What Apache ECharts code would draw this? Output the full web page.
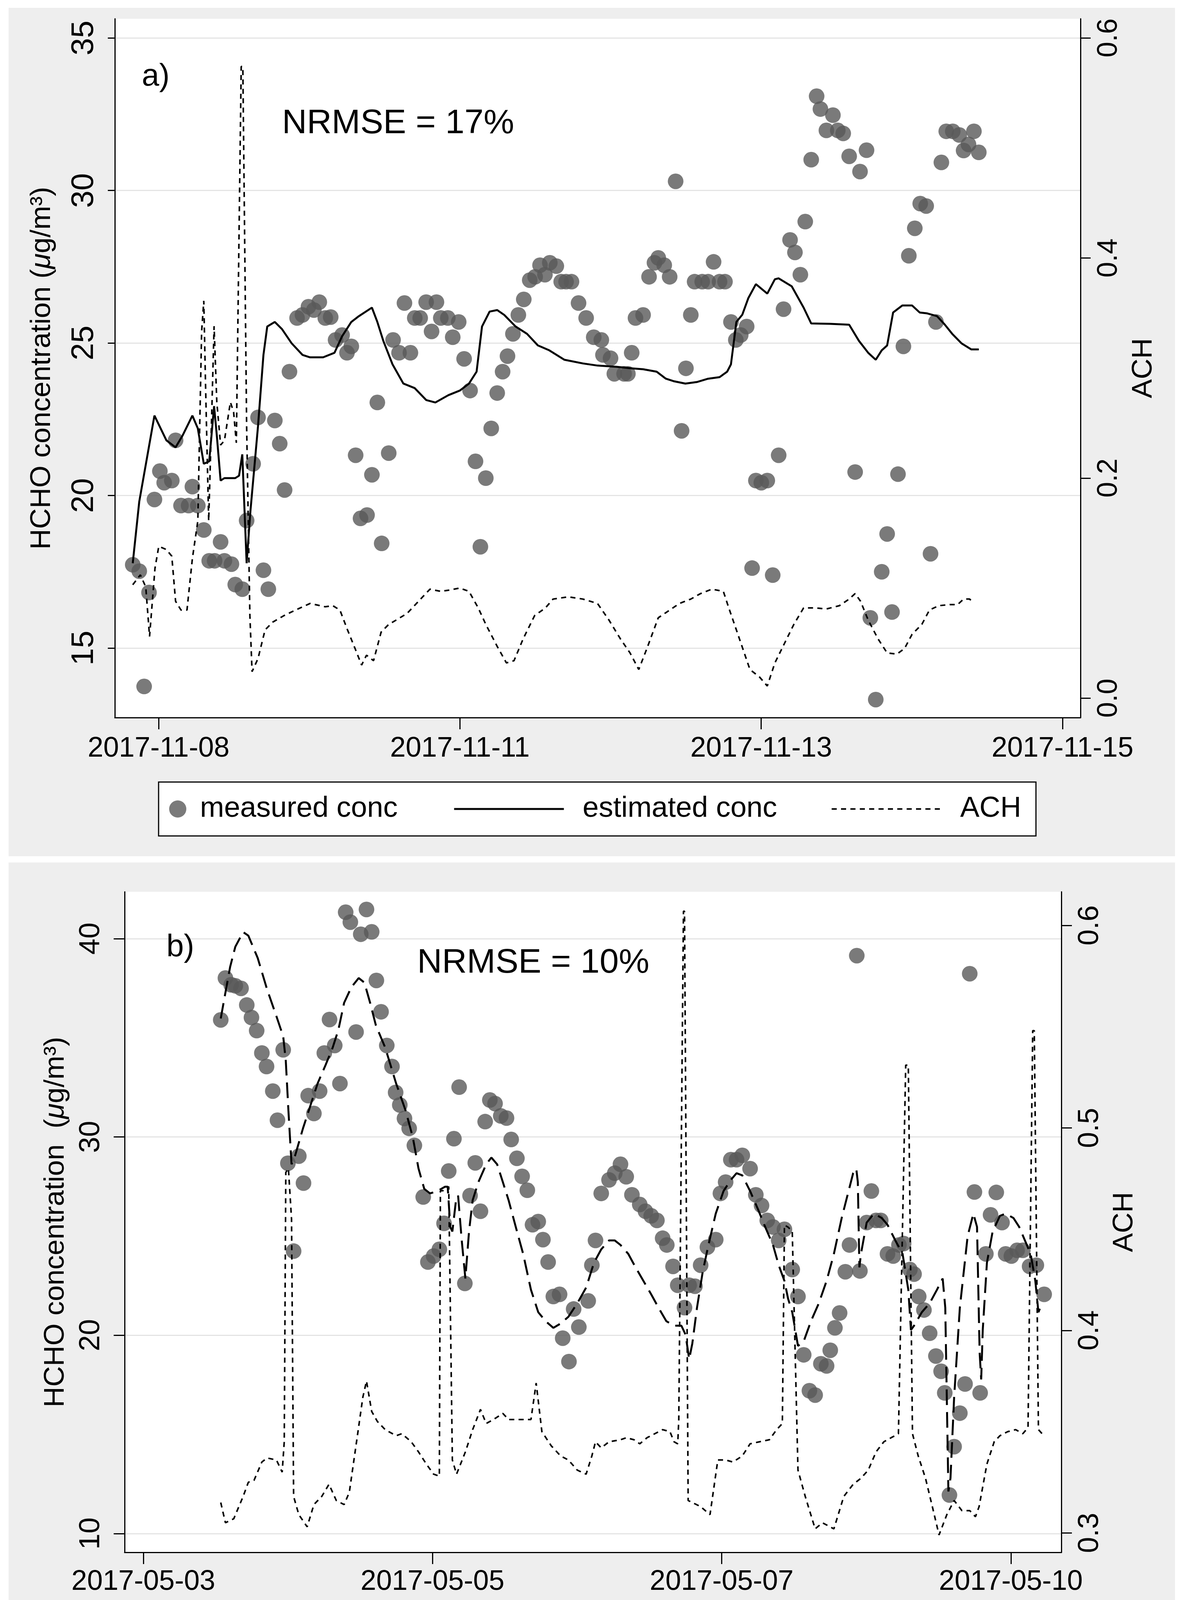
<!DOCTYPE html>
<html>
<head>
<meta charset="utf-8">
<script src="https://cdn.jsdelivr.net/npm/echarts@6.0.0/dist/echarts.min.js"></script>
<style>
  html, body { margin: 0; padding: 0; background: #fff; }
  #chart { width: 3031px; height: 4398px; }
</style>
</head>
<body>
<div id="chart"></div>
<script>
// x values are hours from midnight of the first date of each panel
// (panel a: 2017-11-08 00:00, panel b: 2017-05-03 00:00)

var dateTicksA = [22.667, 78.222, 133.778, 189.333];
var dateLabelsA = ['2017-11-08', '2017-11-11', '2017-11-13', '2017-11-15'];
var concTicksA = [15, 20, 25, 30, 35];
var achTicksA = [0, 0.2, 0.4, 0.6];

var dateTicksB = [3.333, 58.889, 114.444, 170.0];
var dateLabelsB = ['2017-05-03', '2017-05-05', '2017-05-07', '2017-05-10'];
var concTicksB = [10, 20, 30, 40];
var achTicksB = [0.3, 0.4, 0.5, 0.6];

// panel a, measured conc [hour, ug/m3]
var measuredA = [
  [17.9,17.73],[19.1,17.52],[20.0,13.74],[20.9,16.82],[21.9,19.87],[22.9,20.8],[23.7,20.42],
  [25.1,20.49],[25.8,21.81],[26.8,19.67],[28.2,19.67],[28.9,20.29],[29.9,19.67],[31.0,18.87],
  [32.0,17.86],[33.0,17.86],[34.1,18.48],[34.8,17.86],[36.1,17.75],[36.8,17.08],[38.1,16.93],
  [38.9,19.18],[40.1,21.04],[41.0,22.56],[42.0,17.55],[42.9,16.93],[44.1,22.46],[45.0,21.70],
  [45.9,20.18],[46.8,24.06],[48.2,25.82],[49.2,25.92],[50.3,26.19],[51.3,26.08],[52.3,26.34],
  [53.4,25.82],[54.4,25.85],[55.3,25.10],[56.5,25.26],[57.4,24.68],[58.2,24.89],[59.0,21.32],
  [59.9,19.25],[61.1,19.36],[62.0,20.68],[63.0,23.05],[63.8,18.43],[65.1,21.39],[65.9,25.10],
  [67.0,24.68],[68.0,26.31],[69.1,24.68],[69.9,25.82],[70.9,25.82],[72.0,26.34],[73.0,25.38],
  [73.9,26.34],[74.7,25.82],[76.0,25.82],[76.9,25.19],[78.0,25.69],[79.0,24.48],[80.1,23.44],
  [81.1,21.12],[82.0,18.32],[83.0,20.57],[84.0,22.20],[85.1,23.36],[86.1,24.06],[87.0,24.57],
  [88.0,25.30],[89.0,25.92],[90.0,26.43],[91.1,27.06],[92.1,27.17],[93.0,27.55],[93.9,27.24],
  [94.8,27.63],[96.0,27.52],[96.9,27.01],[97.8,27.01],[98.8,27.01],[100.1,26.31],[101.5,25.82],
  [102.9,25.19],[104.3,25.10],[104.6,24.61],[106.0,24.50],[106.7,23.99],[108.5,23.99],[109.2,23.99],
  [109.9,24.68],[110.6,25.82],[112.0,25.92],[113.1,27.17],[114.1,27.63],[114.8,27.79],[115.9,27.55],
  [116.9,27.17],[118.0,30.30],[119.1,22.12],[119.9,24.17],[120.8,25.92],[121.5,27.01],[122.9,27.01],
  [124.0,27.01],[125.0,27.66],[126.1,27.01],[127.1,27.01],[128.2,25.69],[129.1,25.10],[130.0,25.26],
  [131.1,25.54],[132.1,17.62],[132.8,20.49],[133.8,20.42],[134.9,20.49],[135.9,17.39],[137.0,21.32],
  [137.9,26.11],[139.1,28.38],[140.0,27.97],[141.0,27.24],[141.9,28.98],[143.0,31.01],[144.0,33.09],
  [144.7,32.67],[145.8,31.97],[147.0,32.47],[147.9,31.97],[148.9,31.87],[150.0,31.12],[151.1,20.77],
  [152.0,30.62],[153.2,31.32],[153.9,15.99],[154.9,13.31],[156.0,17.50],[157.0,18.74],[157.9,16.18],
  [159.0,20.70],[160.0,24.89],[161.0,27.86],[162.1,28.76],[163.1,29.57],[164.2,29.49],[165.0,18.09],
  [166.0,25.69],[167.0,30.92],[167.9,31.94],[169.1,31.94],[170.3,31.82],[171.1,31.31],[172.0,31.51],
  [173.0,31.94],[173.9,31.25]
];

// panel a, estimated conc
var estimatedA = [
  [17.9,17.78],[19.1,19.80],[21.9,22.62],[24.1,21.81],[25.8,21.58],[27.1,21.97],[28.9,22.62],
  [29.9,22.20],[31.0,21.04],[32.0,21.12],[32.9,22.93],[33.4,21.97],[34.1,20.49],[34.8,20.57],
  [36.8,20.57],[37.5,20.65],[38.1,21.35],[38.9,17.78],[39.6,19.49],[41.0,22.28],[42.0,24.61],
  [42.7,25.54],[44.1,25.69],[45.4,25.46],[47.2,24.99],[49.2,24.61],[50.6,24.53],[53.0,24.53],
  [55.1,24.68],[56.5,25.22],[58.2,25.69],[59.6,25.88],[62.0,26.16],[63.0,25.69],[64.1,25.07],
  [65.8,24.30],[67.8,23.67],[69.9,23.52],[72.0,23.13],[73.7,23.05],[76.1,23.29],[78.2,23.44],
  [79.9,23.67],[81.3,24.06],[82.3,25.54],[83.7,26.03],[85.1,26.08],[86.4,25.92],[88.5,25.54],
  [90.6,25.30],[92.6,24.92],[94.7,24.76],[97.5,24.45],[100.9,24.33],[103.6,24.26],[107.1,24.22],
  [109.9,24.17],[112.0,24.14],[114.5,24.06],[116.2,23.83],[117.6,23.75],[119.8,23.67],[121.9,23.72],
  [124.0,23.83],[126.1,23.88],[127.5,24.06],[128.2,24.30],[129.2,25.69],[130.3,25.93],[131.4,26.47],
  [132.8,26.93],[134.9,26.62],[136.3,27.09],[137.0,27.12],[139.4,26.86],[141.6,26.16],[143.0,25.64],
  [146.5,25.63],[150.0,25.60],[151.8,25.07],[153.5,24.68],[154.9,24.45],[156.0,24.76],[157.0,24.92],
  [158.1,26.00],[159.8,26.23],[161.6,26.23],[163.0,26.00],[164.4,25.97],[166.2,25.88],[167.6,25.61],
  [169.0,25.30],[170.7,24.99],[172.5,24.79],[173.9,24.79]
];

// panel a, air changes per hour
var achA = [
  [17.9,0.103],[19.3,0.112],[20.3,0.101],[21.0,0.056],[22.0,0.118],[22.7,0.138],[24.1,0.135],
  [25.1,0.129],[25.8,0.088],[26.8,0.080],[27.9,0.080],[28.9,0.127],[29.9,0.161],[30.6,0.333],
  [31.0,0.361],[31.3,0.290],[31.9,0.161],[32.4,0.247],[32.9,0.338],[33.4,0.269],[34.1,0.230],
  [34.8,0.234],[35.5,0.256],[35.9,0.269],[36.5,0.260],[37.0,0.232],[37.9,0.574],[38.2,0.574],
  [38.9,0.247],[39.5,0.075],[39.9,0.024],[41.0,0.036],[42.3,0.062],[43.7,0.069],[45.8,0.075],
  [47.9,0.080],[50.6,0.086],[53.4,0.083],[54.8,0.084],[56.1,0.080],[57.5,0.062],[58.9,0.045],
  [60.1,0.030],[61.0,0.039],[62.3,0.034],[63.7,0.060],[65.1,0.067],[66.5,0.071],[68.5,0.077],
  [70.6,0.088],[72.7,0.099],[74.7,0.097],[76.1,0.098],[78.2,0.100],[79.9,0.097],[81.6,0.082],
  [83.0,0.067],[85.1,0.047],[86.8,0.032],[88.2,0.034],[89.9,0.054],[92.0,0.075],[94.0,0.082],
  [95.4,0.090],[98.2,0.092],[100.9,0.090],[103.6,0.086],[105.7,0.071],[107.8,0.054],[109.6,0.041],
  [111.2,0.026],[112.7,0.045],[114.8,0.073],[116.9,0.080],[118.7,0.086],[120.8,0.090],[122.6,0.095],
  [124.7,0.099],[126.8,0.097],[127.8,0.082],[129.2,0.062],[131.7,0.026],[133.5,0.019],[134.9,0.011],
  [136.3,0.032],[138.0,0.049],[139.8,0.067],[141.6,0.082],[143.7,0.082],[145.8,0.081],[148.2,0.084],
  [150.0,0.090],[151.1,0.095],[152.1,0.088],[153.5,0.071],[155.3,0.054],[157.0,0.041],[158.8,0.040],
  [160.2,0.045],[161.6,0.058],[163.4,0.067],[164.8,0.080],[166.5,0.084],[168.6,0.085],[170.0,0.085],
  [171.1,0.090],[172.2,0.090],[172.9,0.087]
];

// panel b, measured conc
var measuredB = [
  [18.2,35.90],[19.1,38.01],[20.2,37.67],[21.0,37.62],[22.1,37.49],[23.2,36.65],[24.1,36.02],
  [25.1,35.36],[26.1,34.23],[27.0,33.55],[28.2,32.31],[29.1,30.84],[30.2,34.39],[31.1,28.67],
  [32.2,24.24],[33.2,29.03],[34.1,27.67],[35.0,32.08],[36.1,31.18],[37.2,32.31],[38.1,34.23],
  [39.1,35.92],[40.1,34.61],[41.1,32.69],[42.2,41.33],[43.1,40.83],[44.2,35.29],[45.1,40.22],
  [46.2,41.47],[47.2,40.34],[48.1,37.89],[49.0,36.31],[50.1,34.61],[51.1,33.55],[51.8,32.24],
  [52.6,31.61],[53.5,30.93],[54.4,30.43],[55.4,29.57],[57.1,26.97],[58.0,23.69],[59.1,23.99],
  [60.2,24.33],[61.1,25.64],[62.0,28.28],[63.0,29.91],[64.0,32.51],[65.1,22.61],[66.1,27.04],
  [67.1,28.69],[68.1,26.25],[69.0,30.77],[69.9,31.86],[70.9,31.68],[72.0,31.06],[73.1,30.95],
  [74.0,29.87],[75.1,28.92],[76.1,28.01],[77.1,27.31],[78.1,25.57],[79.2,25.73],[80.1,24.82],
  [81.1,23.69],[82.1,21.95],[83.3,22.06],[83.9,19.85],[85.1,18.67],[86.0,21.32],[87.0,20.41],
  [88.8,21.73],[89.5,23.53],[90.2,24.78],[91.3,27.15],[92.8,27.83],[93.9,28.17],[95.0,28.62],
  [96.1,27.99],[97.2,27.08],[98.7,26.59],[99.8,26.25],[100.9,26.02],[102.0,25.79],[103.1,24.89],
  [103.9,24.55],[105.1,23.47],[106.0,22.52],[107.3,21.39],[108.2,22.52],[109.3,22.47],[110.4,23.53],
  [111.7,24.44],[113.3,24.82],[114.2,27.15],[115.2,27.72],[116.2,28.85],[117.3,28.85],[118.4,29.07],
  [119.9,28.40],[121.0,27.08],[122.1,26.54],[123.2,25.79],[124.3,25.46],[125.4,24.78],[126.5,25.34],
  [128.0,23.31],[129.1,21.95],[130.2,19.01],[131.3,17.20],[132.4,16.98],[133.5,18.56],[134.6,18.45],
  [135.3,19.24],[136.2,20.37],[137.1,21.12],[138.2,23.20],[139.0,24.55],[140.4,39.14],[141.0,23.24],
  [142.3,25.68],[143.2,27.27],[144.1,25.79],[145.0,25.79],[146.3,24.10],[147.4,23.99],[148.5,24.55],
  [149.4,24.62],[150.6,23.31],[151.4,23.08],[152.3,21.95],[153.3,21.27],[154.4,20.10],[155.6,18.95],
  [156.6,18.18],[157.3,17.09],[158.2,11.94],[159.1,14.38],[160.2,16.07],[161.2,17.54],[162.1,38.23],
  [163.0,27.22],[164.1,17.09],[165.2,24.10],[166.1,26.07],[167.2,27.20],[168.3,25.68],[169.0,24.10],
  [170.1,23.99],[171.2,24.28],[172.3,24.28],[173.6,23.47],[174.9,23.53],[176.4,22.06]
];

// panel b, estimated conc
var estimatedB = [
  [18.2,35.97],[18.9,36.99],[20.0,38.57],[21.0,39.59],[22.5,40.33],[23.5,40.15],[25.3,39.02],
  [27.1,37.44],[28.9,36.08],[30.2,35.07],[30.7,33.82],[31.2,31.33],[31.8,28.62],[32.5,29.07],
  [34.0,30.43],[35.4,31.56],[36.8,32.69],[38.3,33.60],[39.7,34.50],[40.8,35.40],[41.9,36.76],
  [43.3,37.55],[44.7,38.01],[45.8,37.78],[46.9,36.76],[48.0,35.63],[49.8,34.50],[51.9,32.69],
  [53.7,31.34],[55.1,29.98],[56.2,28.40],[57.3,27.38],[58.4,27.15],[59.8,27.26],[61.3,27.49],
  [61.8,27.49],[62.3,25.46],[62.7,25.23],[63.4,26.81],[63.8,27.04],[64.5,24.78],[65.2,22.86],
  [65.9,25.23],[66.6,26.81],[67.7,27.72],[69.2,28.62],[70.2,28.96],[71.3,28.62],[72.4,27.72],
  [73.5,26.81],[74.9,25.44],[76.3,24.10],[77.8,22.29],[79.2,21.16],[80.6,20.71],[82.1,20.37],
  [83.5,20.59],[85.0,20.93],[86.7,21.61],[88.4,22.40],[89.9,23.65],[91.3,24.33],[92.8,24.78],
  [93.9,24.78],[95.0,24.55],[96.5,24.10],[97.9,23.42],[99.4,22.74],[100.9,22.06],[102.3,21.39],
  [103.8,20.71],[105.3,20.48],[106.7,20.48],[107.5,20.03],[108.2,18.79],[108.8,19.58],[109.7,21.39],
  [110.8,23.20],[111.9,24.55],[113.3,26.13],[114.8,27.27],[116.2,27.83],[117.3,28.17],[118.4,28.06],
  [119.9,27.27],[121.4,26.36],[122.8,25.46],[124.3,24.55],[125.4,23.53],[126.5,22.74],[127.2,21.84],
  [128.0,21.16],[129.1,19.46],[130.2,19.69],[131.6,20.71],[133.1,21.61],[134.6,22.74],[136.0,24.10],
  [137.5,25.91],[138.6,27.04],[139.7,28.17],[140.3,28.40],[140.6,27.72],[140.9,23.42],[141.2,24.10],
  [142.3,25.68],[143.7,26.13],[145.2,25.91],[146.3,25.57],[147.8,24.78],[149.2,24.10],[150.3,22.29],
  [150.8,20.26],[151.4,20.48],[152.9,21.16],[154.4,21.61],[155.8,22.29],[156.9,22.86],[157.4,21.39],
  [158.0,12.12],[158.4,12.79],[159.1,16.86],[160.2,21.39],[161.7,25.00],[162.8,26.13],[163.5,25.46],
  [164.0,19.13],[164.3,17.77],[164.6,20.26],[165.4,23.65],[166.5,25.23],[167.9,26.02],[169.0,26.13],
  [170.5,25.91],[171.6,25.46],[172.7,24.78],[173.8,24.10],[174.7,22.74],[175.3,21.16],[176.0,21.61]
];

// panel b, air changes per hour
var achB = [
  [18.2,0.315],[19.1,0.305],[20.7,0.307],[22.5,0.318],[23.5,0.325],[24.6,0.326],[26.1,0.335],
  [27.1,0.337],[28.9,0.336],[30.0,0.330],[30.4,0.345],[30.7,0.478],[31.2,0.480],[31.8,0.455],
  [32.2,0.318],[33.2,0.309],[34.8,0.303],[36.1,0.314],[37.6,0.318],[39.0,0.324],[40.4,0.316],
  [41.9,0.314],[42.9,0.320],[44.4,0.347],[45.5,0.367],[46.2,0.375],[47.2,0.360],[48.3,0.355],
  [49.8,0.351],[51.9,0.348],[53.0,0.349],[54.8,0.345],[56.2,0.340],[57.7,0.334],[59.1,0.329],
  [60.2,0.328],[60.4,0.469],[60.9,0.469],[62.0,0.471],[62.7,0.336],[63.5,0.329],[65.2,0.340],
  [66.6,0.351],[68.1,0.361],[69.2,0.354],[70.6,0.356],[72.4,0.359],[73.5,0.356],[75.3,0.356],
  [77.8,0.356],[78.8,0.374],[79.9,0.350],[81.7,0.343],[83.5,0.338],[85.0,0.336],[86.7,0.331],
  [88.4,0.329],[89.5,0.338],[90.2,0.345],[91.3,0.342],[92.8,0.345],[95.0,0.346],[96.1,0.347],
  [97.6,0.346],[98.7,0.344],[100.1,0.347],[101.6,0.349],[103.1,0.351],[104.5,0.350],[105.3,0.345],
  [106.0,0.344],[106.2,0.356],[107.1,0.607],[107.3,0.607],[108.0,0.316],[110.4,0.313],[112.2,0.309],
  [113.7,0.336],[115.2,0.336],[116.6,0.335],[118.4,0.338],[119.9,0.344],[121.7,0.345],[123.6,0.346],
  [125.0,0.351],[126.1,0.354],[126.5,0.452],[127.2,0.451],[128.0,0.449],[129.1,0.331],[130.5,0.318],
  [132.4,0.302],[133.8,0.305],[136.0,0.302],[137.9,0.318],[139.7,0.324],[141.2,0.327],[142.6,0.331],
  [144.1,0.340],[145.6,0.345],[147.0,0.347],[148.4,0.349],[149.8,0.531],[150.3,0.531],[151.1,0.349],
  [152.2,0.338],[153.6,0.327],[155.1,0.311],[156.2,0.299],[157.7,0.309],[159.1,0.316],[160.6,0.311],
  [162.1,0.311],[163.2,0.308],[163.9,0.313],[165.4,0.334],[166.8,0.345],[167.9,0.348],[169.4,0.350],
  [170.9,0.351],[172.3,0.349],[173.3,0.352],[174.2,0.548],[174.5,0.548],[175.3,0.351],[176.0,0.349]
];

var FONT = '"Liberation Sans", Arial, Helvetica, sans-serif';
var DOT = '#595959';
var GRID_LINE = '#e4e4e4';

function dateLabel(ticks, labels) {
  return function (v) {
    var best = 0;
    for (var i = 1; i < ticks.length; i++) {
      if (Math.abs(ticks[i] - v) < Math.abs(ticks[best] - v)) best = i;
    }
    return labels[best];
  };
}

function xAxisFor(grid, min, max, ticks, labels, margin) {
  return {
    type: 'value', gridIndex: grid, min: min, max: max,
    axisLine: { show: true, onZero: false, lineStyle: { color: '#000', width: 3 } },
    axisTick: { show: true, length: 30, customValues: ticks, lineStyle: { color: '#000', width: 3 } },
    axisLabel: { customValues: ticks, formatter: dateLabel(ticks, labels), fontSize: 72,
                 fontFamily: FONT, color: '#000', margin: margin },
    splitLine: { show: false }
  };
}

function yAxisFor(grid, side, min, max, ticks, o) {
  return {
    type: 'value', gridIndex: grid, position: side, min: min, max: max,
    name: o.name, nameLocation: 'middle', nameRotate: 90, nameGap: o.nameGap,
    nameTextStyle: { fontSize: 73, fontFamily: FONT, color: '#000', rich: o.rich },
    axisLine: { show: true, onZero: false, lineStyle: { color: '#000', width: 3 } },
    axisTick: { show: true, length: o.tick, customValues: ticks, lineStyle: { color: '#000', width: 3 } },
    axisLabel: { customValues: ticks, rotate: 90, fontSize: o.fontSize, fontFamily: FONT,
                 color: '#000', margin: o.margin, formatter: o.fmt },
    splitLine: { show: side === 'left', lineStyle: { color: GRID_LINE, width: 3 } }
  };
}

var titleRich = {
  t: { fontSize: 73, fontFamily: FONT, color: '#000' },
  i: { fontSize: 73, fontFamily: FONT, color: '#000', fontStyle: 'italic' }
};

// one legend per entry so each key sits where the reference has it
function legendItem(name, left, top, w, h, pad, lineW) {
  var lg = {
    data: [name], left: left, top: top, orient: 'horizontal', padding: 0,
    itemWidth: w, itemHeight: h, selectedMode: false,
    formatter: function (n) { return n.slice(2); },
    textStyle: { fontSize: 74, fontFamily: FONT, color: '#000', padding: [0, 0, 0, pad] }
  };
  if (lineW) {
    lg.lineStyle = { width: lineW };
    // hide the little marker echarts puts in the middle of a line key
    lg.itemStyle = { color: 'rgba(0,0,0,0)', borderWidth: 0, opacity: 0 };
  }
  return lg;
}

var chart = echarts.init(document.getElementById('chart'), null, { renderer: 'canvas' });

chart.setOption({
  backgroundColor: '#ffffff',
  animation: false,
  textStyle: { fontFamily: FONT },
  graphic: [
    { type: 'rect', z: -10, shape: { x: 22, y: 20, width: 2986, height: 2172 }, style: { fill: '#eeeeee' } },
    { type: 'rect', z: -10, shape: { x: 22, y: 2208, width: 2986, height: 2168 }, style: { fill: '#eeeeee' } },
    { type: 'rect', z: 1, shape: { x: 406, y: 2002, width: 2246, height: 138 },
      style: { fill: '#fff', stroke: '#000', lineWidth: 3 } },
    { type: 'rect', z: 1, shape: { x: 392, y: 4135, width: 2251, height: 142 },
      style: { fill: '#fff', stroke: '#000', lineWidth: 3 } },
    { type: 'text', z: 5, x: 363, y: 197,
      style: { text: 'a)', fontSize: 80, fontFamily: FONT, fill: '#000', align: 'left', verticalAlign: 'middle' } },
    { type: 'text', z: 5, x: 722, y: 317,
      style: { text: 'NRMSE = 17%', fontSize: 88, fontFamily: FONT, fill: '#000', align: 'left', verticalAlign: 'middle' } },
    { type: 'text', z: 5, x: 426, y: 2426,
      style: { text: 'b)', fontSize: 80, fontFamily: FONT, fill: '#000', align: 'left', verticalAlign: 'middle' } },
    { type: 'text', z: 5, x: 1068, y: 2466,
      style: { text: 'NRMSE = 10%', fontSize: 88, fontFamily: FONT, fill: '#000', align: 'left', verticalAlign: 'middle' } }
  ],
  grid: [
    { left: 294, top: 48, width: 2472, height: 1789, show: true, backgroundColor: '#fff',
      borderWidth: 0, containLabel: false, outerBoundsMode: 'none' },
    { left: 319, top: 2283, width: 2398, height: 1691, show: true, backgroundColor: '#fff',
      borderWidth: 0, containLabel: false, outerBoundsMode: 'none' }
  ],
  xAxis: [
    xAxisFor(0, 14.6, 192.65, dateTicksA, dateLabelsA, 44),
    xAxisFor(1, -0.27, 179.7, dateTicksB, dateLabelsB, 40)
  ],
  yAxis: [
    yAxisFor(0, 'left', 12.72, 35.63, concTicksA, {
      name: '{t|HCHO concentration (}{i|μ}{t|g/m³)}', rich: titleRich, nameGap: 150,
      tick: 18, fontSize: 80, margin: 38, fmt: '{value}' }),
    yAxisFor(0, 'right', -0.0177, 0.6174, achTicksA, {
      name: 'ACH', nameGap: 125, tick: 26, fontSize: 72, margin: 37,
      fmt: function (v) { return v.toFixed(1); } }),
    yAxisFor(1, 'left', 9.05, 42.36, concTicksB, {
      name: '{t|HCHO concentration  (}{i|μ}{t|g/m³)}', rich: titleRich, nameGap: 140,
      tick: 28, fontSize: 74, margin: 48, fmt: '{value}' }),
    yAxisFor(1, 'right', 0.2904, 0.6166, achTicksB, {
      name: 'ACH', nameGap: 125, tick: 27, fontSize: 74, margin: 37,
      fmt: function (v) { return v.toFixed(1); } })
  ],
  legend: [
    legendItem('a:measured conc', 433, 2034, 44, 44, 30),
    legendItem('a:estimated conc', 1160, 2034, 281, 20, 43, 5),
    legendItem('a:ACH', 2127, 2034, 277, 20, 47, 4),
    legendItem('b:measured conc', 419, 4169, 44, 44, 35),
    legendItem('b:estimated conc', 1150, 4169, 281, 20, 43, 5),
    legendItem('b:ACH', 2113, 4169, 271, 20, 56, 4)
  ],
  series: [
    { name: 'a:measured conc', type: 'scatter', xAxisIndex: 0, yAxisIndex: 0, data: measuredA,
      symbol: 'circle', symbolSize: 40, itemStyle: { color: DOT }, z: 2 },
    { name: 'a:estimated conc', type: 'line', xAxisIndex: 0, yAxisIndex: 0, data: estimatedA,
      symbol: 'none', lineStyle: { color: '#000', width: 5 }, itemStyle: { color: '#000' }, z: 3 },
    { name: 'a:ACH', type: 'line', xAxisIndex: 0, yAxisIndex: 1, data: achA,
      symbol: 'none', lineStyle: { color: '#000', width: 4, type: [13, 11] }, itemStyle: { color: '#000' }, z: 3 },
    { name: 'b:measured conc', type: 'scatter', xAxisIndex: 1, yAxisIndex: 2, data: measuredB,
      symbol: 'circle', symbolSize: 40, itemStyle: { color: DOT }, z: 2 },
    { name: 'b:estimated conc', type: 'line', xAxisIndex: 1, yAxisIndex: 2, data: estimatedB,
      symbol: 'none', lineStyle: { color: '#000', width: 5, type: [40, 18] }, itemStyle: { color: '#000' }, z: 3 },
    { name: 'b:ACH', type: 'line', xAxisIndex: 1, yAxisIndex: 3, data: achB,
      symbol: 'none', lineStyle: { color: '#000', width: 4, type: [13, 11] }, itemStyle: { color: '#000' }, z: 3 }
  ]
});
</script>
</body>
</html>
